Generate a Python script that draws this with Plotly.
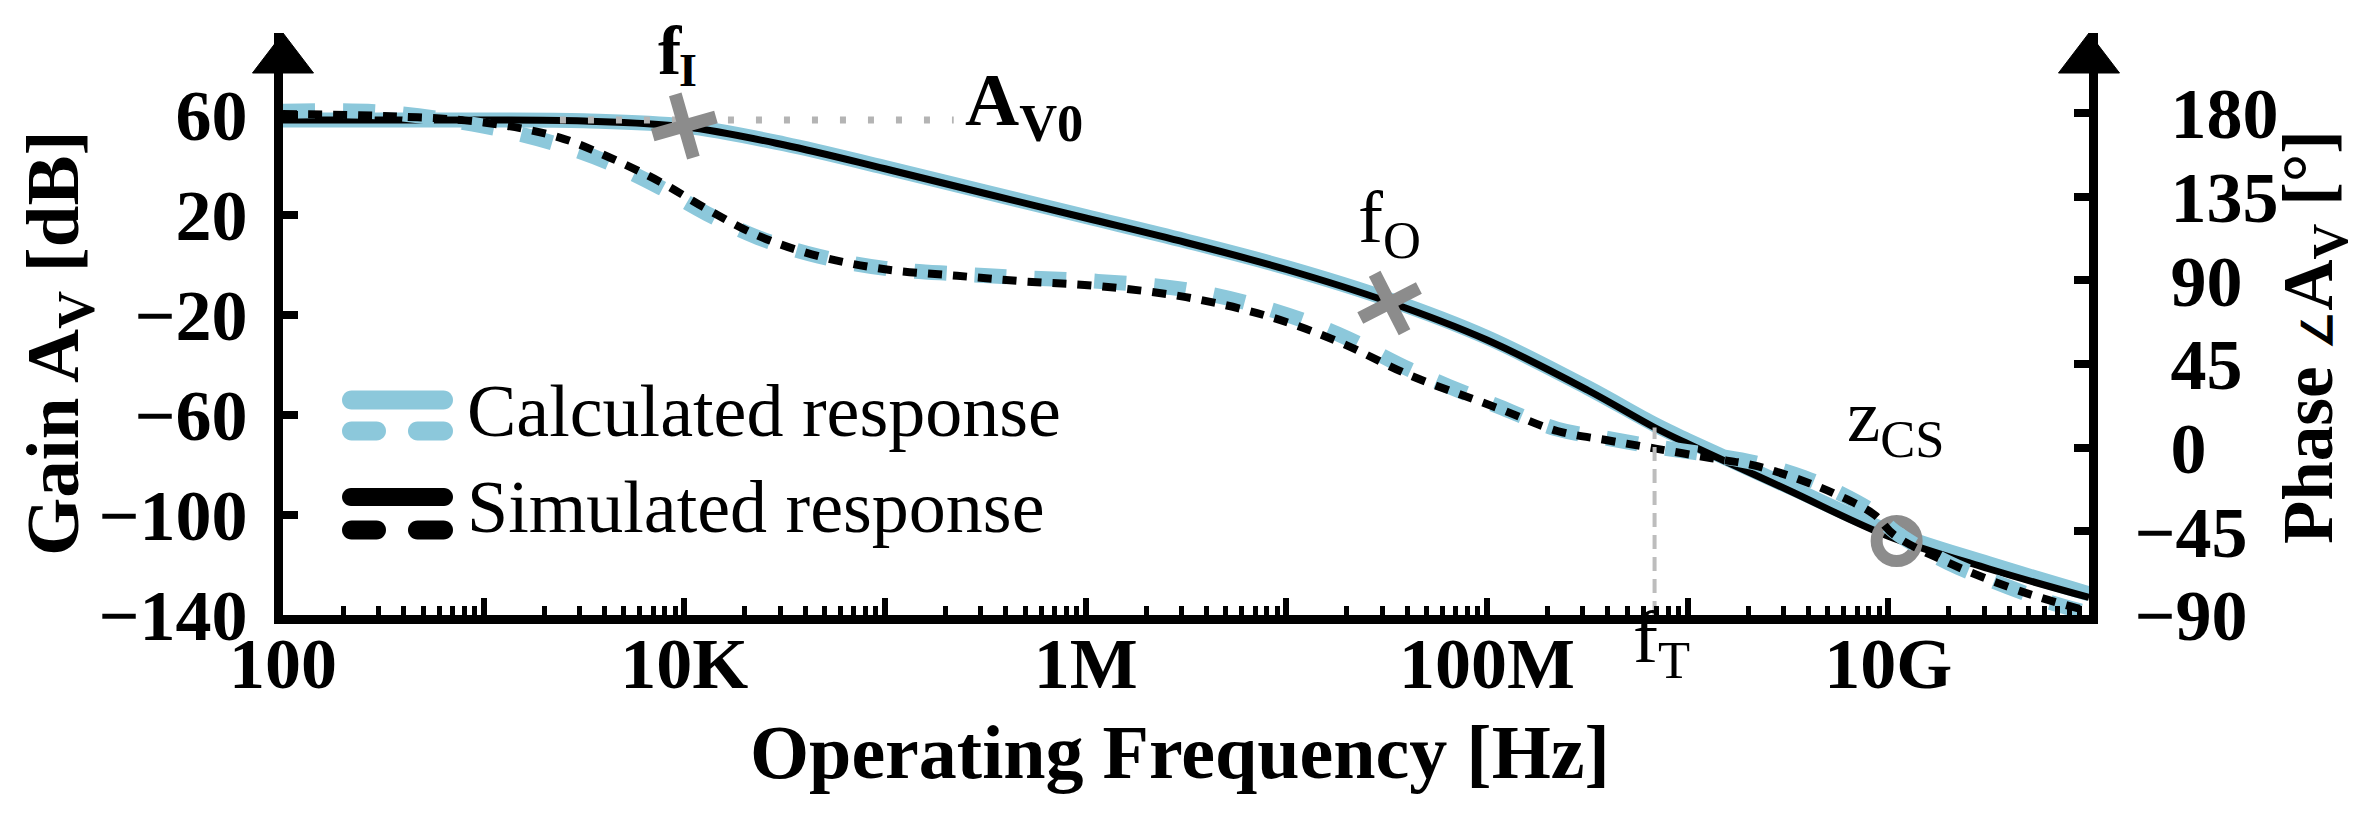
import plotly.graph_objects as go

# ---------------- data ----------------
gain_freq = [1e2, 3.16e2, 1e3, 3.16e3, 1e4, 3.16e4, 1e5, 3.16e5, 1e6, 3.16e6,
             1e7, 3.16e7, 1e8, 3.16e8, 6.84e8, 1e9, 3.16e9, 1e10, 3.16e10, 1e11]
gain_sim = [58.0, 58.0, 58.0, 57.6, 55.3, 48.0, 38.5, 28.6, 18.8, 9.0,
            -1.8, -14.5, -30.0, -50.0, -65.0, -71.5, -90.0, -108.5, -121.5, -133.0]
gain_calc = [58.0, 58.0, 58.0, 57.7, 55.6, 48.4, 39.0, 29.2, 19.4, 9.6,
             -1.0, -13.5, -29.0, -49.0, -63.8, -70.2, -88.5, -106.5, -119.5, -131.5]

phase_freq = [1e2, 3.16e2, 1e3, 2.37e3, 4.27e3, 7.59e3, 1.29e4, 2.34e4, 4.68e4, 1e5,
              2.29e5, 4.9e5, 1.15e6, 3.16e6, 7.94e6, 1.82e7, 4.12e7, 1.15e8, 2.24e8, 3.98e8,
              6.92e8, 1.32e9, 2.14e9, 3.8e9, 5.62e9, 8.51e9, 1.07e10, 2e10, 3.98e10, 6.31e10, 1e11]
phase_sim = [179.5, 178.5, 175, 167, 156, 143, 128.5, 114, 103, 96,
             92.5, 89.5, 87, 81, 71, 57, 39, 21, 9, 4,
             -0.5, -5.7, -9.5, -18, -25.6, -36, -47, -62, -75, -82, -88]
phase_calc = [181, 180.5, 173, 163, 153, 140, 126, 113, 103, 96.5,
              93.5, 91.5, 89.5, 85, 75, 61, 42, 22, 10, 5,
              0.5, -4, -8, -16, -24, -35, -45, -62, -75, -83, -89]

cross_freq = [1e4, 3.27e7]        # f_I, f_O
cross_gain = [55.6, -15.2]
cross_angle = [-16, -27]
zcs_freq = [1.1e10]
zcs_gain = [-110.4]
av0_freq = [2.4e3, 2.2e5]
av0_gain = [58.0, 58.0]
ft_freq = [6.84e8, 6.84e8]
ft_gain = [-140, -65]

x_label_vals = [1e2, 1e4, 1e6, 1e8, 1e10]
x_label_text = ["100", "10K", "1M", "100M", "10G"]
x_odd_decades = [1e3, 1e5, 1e7, 1e9, 1e11]
y_tickvals = [-140, -100, -60, -20, 20, 60]
y2_tickvals = [-90, -45, 0, 45, 90, 135, 180]

# ---------------- geometry ----------------
W, H = 2376, 827
L, R, T, B = 275, 295, 25, 220
PW, PH = W - L - R, H - T - B
Y_LO = -140.0
Y_HI = Y_LO + PH / 2.5
PH_RATIO = 1.345
Y2_LO = -90.0
Y2_HI = Y2_LO + (Y_HI - Y_LO) * PH_RATIO

LBLUE = "#8CC8DB"
GREY = "#8C8C8C"
FONT = "Liberation Serif"
TFS = 72   # tick labels
FS = 75    # titles / labels


def P(px, py):
    return (px - L) / PW, (H - B - py) / PH


def minus(v):
    return ("\u2212" + str(abs(v))) if v < 0 else str(v)


def rtext(v):
    # figure space keeps the digits aligned the way the reference shows them
    return ("\u2212" + str(abs(v))) if v < 0 else ("\u2007" + str(v))


def stadium(x0, x1, yc, h):
    r = h / 2.0
    k = 0.5523 * r
    def p(x, y):
        a, b = P(x, y)
        return f"{a:.5f},{b:.5f}"
    s = "M" + p(x0 + r, yc - r)
    s += " L" + p(x1 - r, yc - r)
    s += " C" + p(x1 - r + k, yc - r) + " " + p(x1, yc - k) + " " + p(x1, yc)
    s += " C" + p(x1, yc + k) + " " + p(x1 - r + k, yc + r) + " " + p(x1 - r, yc + r)
    s += " L" + p(x0 + r, yc + r)
    s += " C" + p(x0 + r - k, yc + r) + " " + p(x0, yc + k) + " " + p(x0, yc)
    s += " C" + p(x0, yc - k) + " " + p(x0 + r - k, yc - r) + " " + p(x0 + r, yc - r)
    s += " Z"
    return s


fig = go.Figure()

fig.add_trace(go.Scatter(x=ft_freq, y=ft_gain, mode="lines", xaxis="x2",
                         line=dict(color="#BDBDBD", width=4, dash="14px,8px"),
                         hoverinfo="skip"))
fig.add_trace(go.Scatter(x=gain_freq, y=gain_calc, mode="lines", name="Calculated response",
                         line=dict(color=LBLUE, width=15, shape="spline")))
fig.add_trace(go.Scatter(x=phase_freq, y=phase_calc, mode="lines", yaxis="y2",
                         line=dict(color=LBLUE, width=15, shape="spline", dash="32px,28px")))
fig.add_trace(go.Scatter(x=gain_freq, y=gain_sim, mode="lines", name="Simulated response",
                         line=dict(color="black", width=7, shape="spline")))
fig.add_trace(go.Scatter(x=phase_freq, y=phase_sim, mode="lines", yaxis="y2",
                         line=dict(color="black", width=8, shape="spline", dash="14px,11px")))
fig.add_trace(go.Scatter(x=av0_freq, y=av0_gain, mode="lines",
                         line=dict(color="#B4B4B4", width=7, dash="6px,22px")))
fig.add_trace(go.Scatter(x=cross_freq, y=cross_gain, mode="markers",
                         marker=dict(symbol="cross-thin", size=47, angle=cross_angle,
                                     color=GREY, line=dict(color=GREY, width=13))))
fig.add_trace(go.Scatter(x=zcs_freq, y=zcs_gain, mode="markers",
                         marker=dict(symbol="circle-open", size=40,
                                     color=GREY, line=dict(color=GREY, width=12))))

tickfont = dict(family=FONT, size=TFS, color="black", weight="bold")

fig.update_layout(
    width=W, height=H, margin=dict(l=L, r=R, t=T, b=B, autoexpand=False),
    paper_bgcolor="white", plot_bgcolor="white", showlegend=False,
    xaxis=dict(type="log", range=[2, 11], showgrid=False, zeroline=False,
               showline=True, linecolor="black", linewidth=9,
               ticks="inside", ticklen=17, tickwidth=6, tickcolor="black",
               tickmode="array", tickvals=x_label_vals, ticktext=x_label_text,
               tickfont=tickfont, ticklabelstandoff=-22,
               minor=dict(tickmode="array",
                          tickvals=[m * d for d in (x_label_vals + x_odd_decades[:-1])
                                    for m in range(2, 10)],
                          ticks="inside", ticklen=9, tickwidth=4.5, tickcolor="black"),
               automargin=False),
    xaxis2=dict(type="log", range=[2, 11], matches="x", overlaying="x", anchor="y",
                side="bottom", showgrid=False, zeroline=False, showline=False,
                ticks="inside", ticklen=17, tickwidth=6, tickcolor="black",
                tickmode="array", tickvals=x_odd_decades, showticklabels=False,
                automargin=False),
    yaxis=dict(range=[Y_LO, Y_HI], showgrid=False, zeroline=False,
               showline=True, linecolor="black", linewidth=9,
               ticks="inside", ticklen=15, tickwidth=8, tickcolor="black",
               tickmode="array", tickvals=y_tickvals,
               ticktext=[minus(v) for v in y_tickvals],
               tickfont=tickfont, ticklabelstandoff=12, automargin=False),
    yaxis2=dict(range=[Y2_LO, Y2_HI], overlaying="y", side="right", anchor="x",
                showgrid=False, zeroline=False,
                showline=True, linecolor="black", linewidth=9,
                ticks="inside", ticklen=15, tickwidth=8, tickcolor="black",
                tickmode="array", tickvals=y2_tickvals,
                ticktext=[rtext(v) for v in y2_tickvals],
                tickfont=tickfont, ticklabelstandoff=22, automargin=False),
)

# axis arrows
hw = 30.5 / PW
yb = (H - B - 65) / PH
for xa in (0.0, 1.0):
    fig.add_shape(type="path", xref="paper", yref="paper",
                  path=f"M{xa - hw:.5f},{yb:.5f} L{xa + hw:.5f},{yb:.5f} L{xa:.5f},1 Z",
                  fillcolor="black", line=dict(color="black", width=1))

# manual legend
fig.add_shape(type="path", xref="paper", yref="paper", path=stadium(334, 445, 392, 19),
              fillcolor=LBLUE, line=dict(width=0))
fig.add_shape(type="path", xref="paper", yref="paper", path=stadium(334, 378, 423, 19),
              fillcolor=LBLUE, line=dict(width=0))
fig.add_shape(type="path", xref="paper", yref="paper", path=stadium(400, 445, 423, 19),
              fillcolor=LBLUE, line=dict(width=0))
fig.add_shape(type="path", xref="paper", yref="paper", path=stadium(334, 445, 489, 18),
              fillcolor="black", line=dict(width=0))
fig.add_shape(type="path", xref="paper", yref="paper", path=stadium(334, 378, 522, 19),
              fillcolor="black", line=dict(width=0))
fig.add_shape(type="path", xref="paper", yref="paper", path=stadium(400, 445, 522, 19),
              fillcolor="black", line=dict(width=0))


def ann(text, px, py, size=FS, bold=False, xanchor="center", angle=0):
    x, y = P(px, py)
    fig.add_annotation(text=text, x=x, y=y, xref="paper", yref="paper",
                       xanchor=xanchor, yanchor="middle", showarrow=False,
                       textangle=angle,
                       font=dict(family=FONT, size=size, color="black",
                                 weight="bold" if bold else "normal"))


ann("Calculated response", 457, 403, size=74, xanchor="left")
ann("Simulated response", 457, 499, size=74, xanchor="left")
ann("Operating Frequency [Hz]", 1172, 744, size=76, bold=True)
ann("Gain A<sub>V</sub> [dB]", 50, 335, bold=True, angle=-90)
ann("Phase <span style='font-size:42px'>\u2220</span>A<sub>V</sub> [\u00b0]", 2306, 329,
    size=71, bold=True, angle=-90)
# f_I label split in two so its box stays inside the figure
ann("f", 662, 42, size=70, bold=True)
ann("I", 680, 62, size=46, bold=True)
ann("A<sub>V0</sub>", 955, 97, bold=True, xanchor="left")
ann("f<sub>O</sub>", 1381, 214)
ann("z<sub>CS</sub>", 1888, 413)
ann("f<sub>T</sub>", 1653, 634)

fig.write_html("out.html")
